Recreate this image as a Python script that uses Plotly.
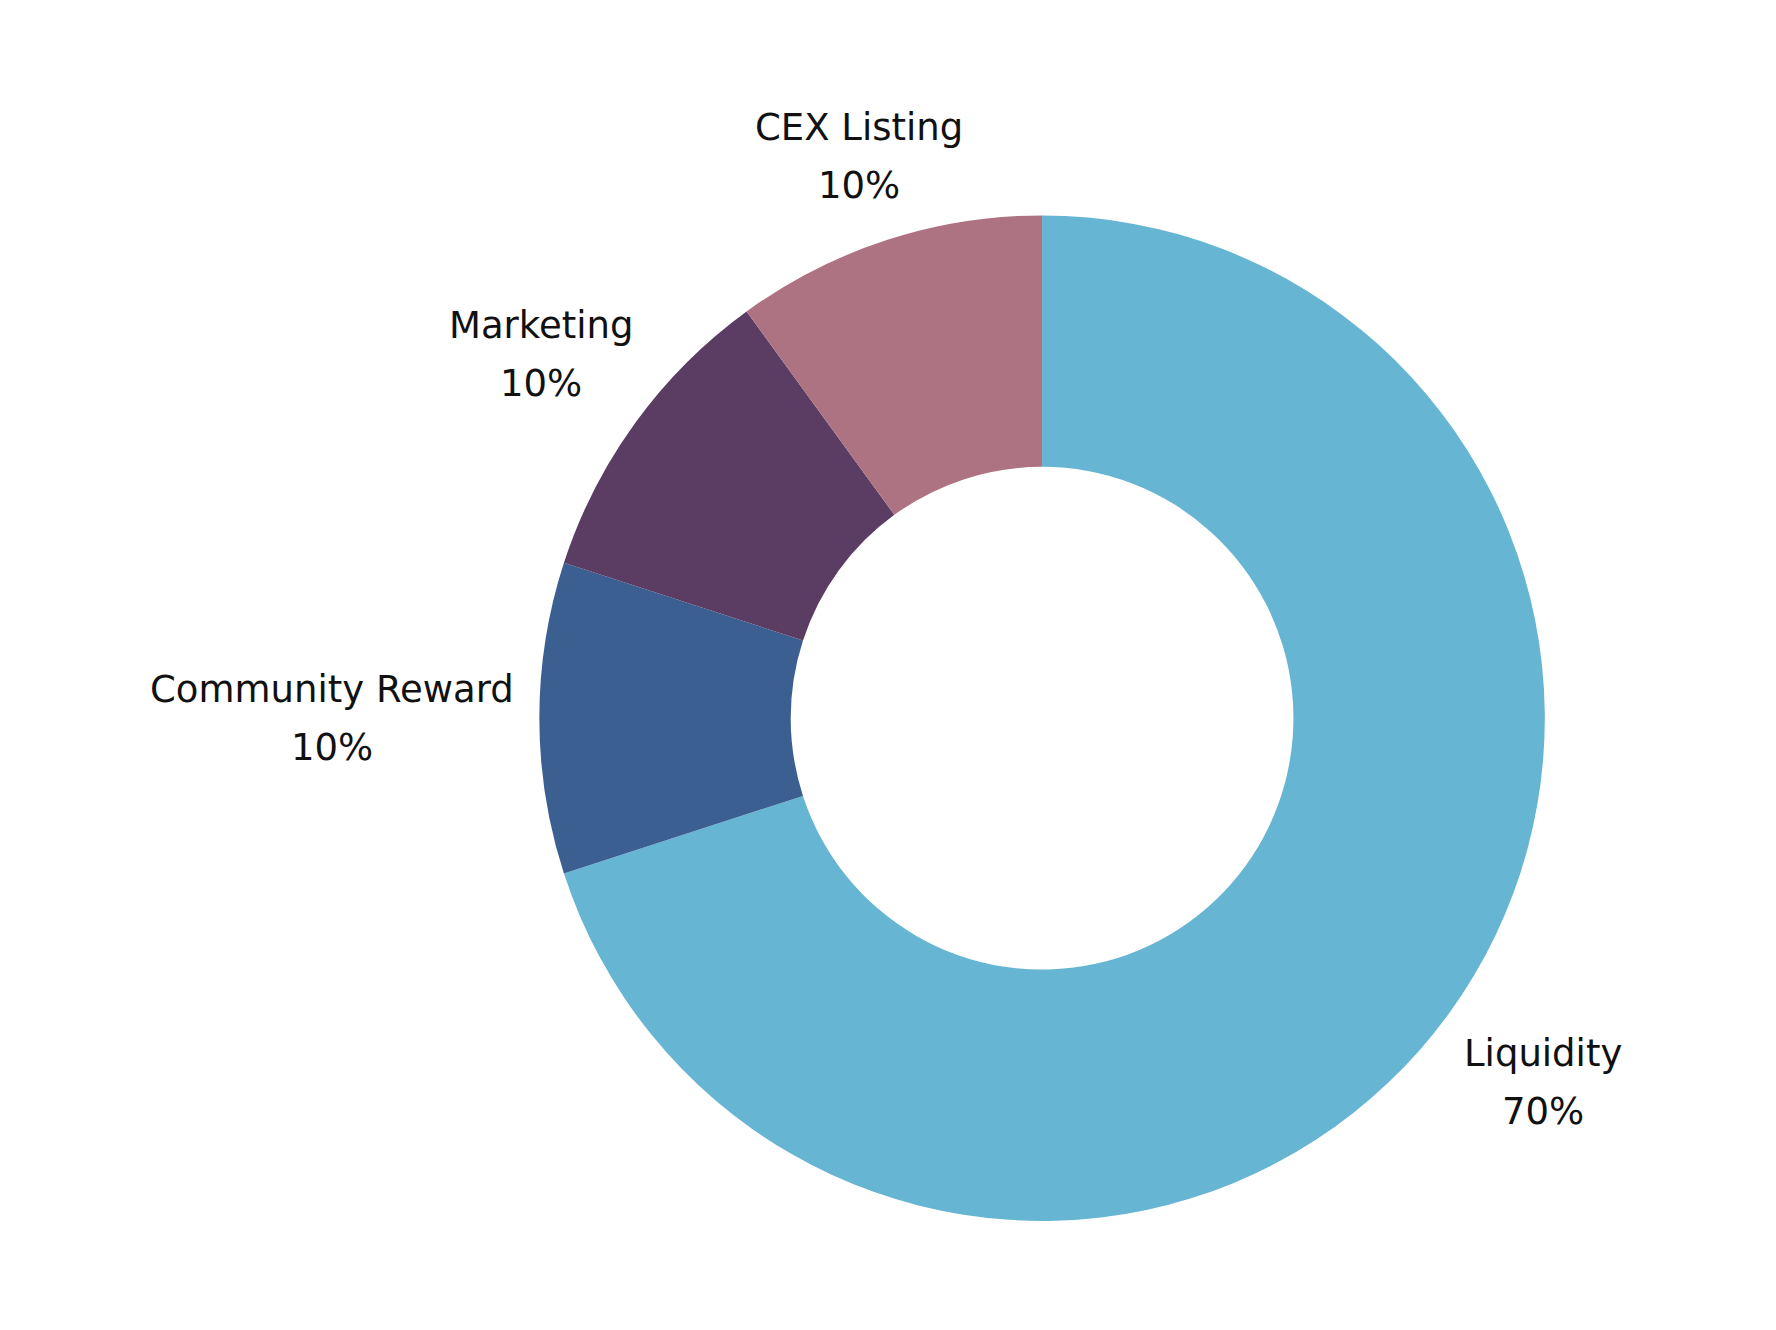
import math
import plotly.graph_objects as go

categories = ["Liquidity", "Community Reward", "Marketing", "CEX Listing"]
values = [70, 10, 10, 10]
colors = ["#66B5D3", "#3C5F92", "#5B3C63", "#AE7382"]

W, H = 1776, 1330
DOM_X = [0.3035, 0.870]
DOM_Y = [0.082, 0.838]
FONT = "DejaVu Sans"
FS = 37

fig = go.Figure(go.Pie(
    labels=categories,
    values=values,
    hole=0.5,
    sort=False,
    direction="clockwise",
    rotation=0,
    marker=dict(colors=colors, line=dict(width=0)),
    textinfo="none",
    hoverinfo="label+percent",
    showlegend=False,
    domain=dict(x=DOM_X, y=DOM_Y),
))

# label placement: centred on each slice's mid-angle, just outside the ring
cx = (DOM_X[0] + DOM_X[1]) / 2 * W
cy = (1 - (DOM_Y[0] + DOM_Y[1]) / 2) * H
R = min((DOM_X[1] - DOM_X[0]) * W, (DOM_Y[1] - DOM_Y[0]) * H) / 2
pad = 42
half_h = 44
line_gap = 29
total = sum(values)
cum = 0
annotations = []
for name, v in zip(categories, values):
    mid = math.radians((cum + v / 2) / total * 360)
    cum += v
    sx, sy = math.sin(mid), -math.cos(mid)
    pct = f"{v / total:.0%}"
    half_w = 0.28 * FS * max(len(name), len(pct))
    t = min(half_w / abs(sx) if abs(sx) > 1e-6 else 1e9,
            half_h / abs(sy) if abs(sy) > 1e-6 else 1e9)
    d = R + pad + t
    px = cx + sx * d
    py = cy + sy * d
    for txt, shift in ((name, line_gap), (pct, -line_gap)):
        annotations.append(dict(
            x=px / W, y=1 - py / H, xref="paper", yref="paper",
            text=txt, showarrow=False, xanchor="center", yanchor="middle",
            yshift=shift, font=dict(family=FONT, size=FS, color="#111111"),
        ))

fig.update_layout(
    width=W, height=H,
    margin=dict(l=0, r=0, t=0, b=0),
    paper_bgcolor="white",
    plot_bgcolor="white",
    annotations=annotations,
)
fig.write_html("out.html")
